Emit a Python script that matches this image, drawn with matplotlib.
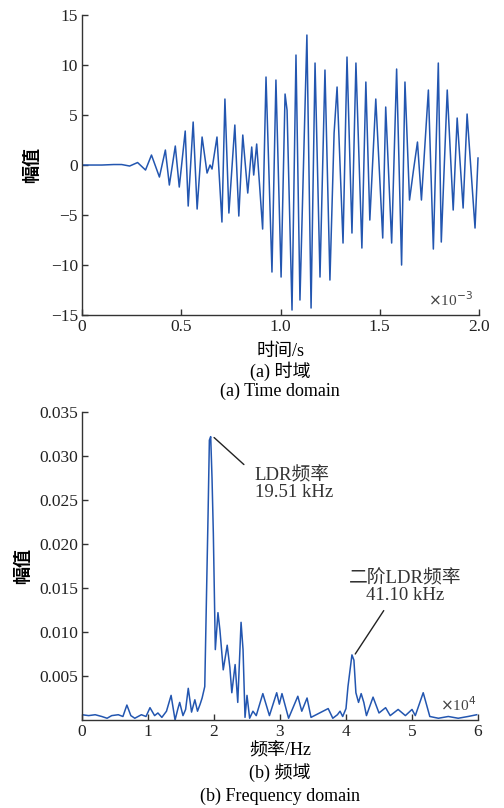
import matplotlib.pyplot as plt

# time domain: extrema (time in ms, amplitude)
t_ms = [0, 0.10, 0.16, 0.20, 0.24, 0.28, 0.32, 0.35, 0.39, 0.42, 0.44, 0.47, 0.49,
        0.52, 0.535, 0.56, 0.58, 0.605, 0.63, 0.645, 0.655, 0.68, 0.705, 0.72, 0.74,
        0.77, 0.79, 0.81, 0.835, 0.855, 0.865, 0.88, 0.91, 0.927, 0.957, 0.977,
        1.003, 1.023, 1.033, 1.058, 1.078, 1.098, 1.133, 1.154, 1.174, 1.199, 1.224,
        1.249, 1.27, 1.285, 1.315, 1.335, 1.36, 1.38, 1.41, 1.43, 1.45, 1.48, 1.515,
        1.53, 1.56, 1.585, 1.61, 1.627, 1.65, 1.67, 1.69, 1.71, 1.745, 1.77, 1.795,
        1.81, 1.84, 1.87, 1.89, 1.92, 1.94, 1.98, 1.995]
amp_t = [0, 0, 0.05, 0.05, -0.1, 0.25, -0.5, 1.0, -1.2, 1.5, -2.0, 1.9, -2.2,
         3.4, -4.1, 4.3, -4.4, 2.8, -0.8, 0.0, -0.4, 2.8, -5.7, 6.6, -4.8,
         4.0, -5.1, 3.0, -2.8, 1.8, -1.0, 2.1, -6.4, 8.8, -10.7, 8.5,
         -11.2, 7.1, 5.5, -14.5, 11.0, -13.5, 13.0, -14.3, 10.2, -11.2, 9.5,
         -11.5, 3.2, 7.8, -7.8, 10.8, -6.8, 10.2, -8.3, 8.3, -5.5, 6.6, -7.3,
         5.8, -7.8, 9.6, -10.0, 8.3, -3.5, -0.5, 2.3, -3.5, 7.5, -8.4, 10.2,
         -7.7, 7.5, -4.5, 4.7, -4.3, 5.1, -6.3, 0.7]

# frequency domain (frequency in 1e4 Hz, amplitude)
f_e4 = [0, 0.1, 0.2, 0.3, 0.38, 0.45, 0.55, 0.62, 0.68, 0.74, 0.8, 0.9, 0.97, 1.03,
        1.1, 1.15, 1.21, 1.28, 1.35, 1.41, 1.45, 1.48, 1.53, 1.57, 1.61, 1.66, 1.71,
        1.75, 1.79, 1.82, 1.86, 1.89, 1.91, 1.93, 1.95, 1.97, 1.99, 2.02, 2.06, 2.09,
        2.14, 2.20, 2.24, 2.27, 2.32, 2.36, 2.41, 2.44, 2.47, 2.5, 2.54, 2.59, 2.64,
        2.74, 2.84, 2.95, 2.99, 3.03, 3.13, 3.27, 3.33, 3.41, 3.47, 3.6, 3.73, 3.8,
        3.87, 3.91, 3.95, 4.0, 4.03, 4.09, 4.12, 4.15, 4.19, 4.23, 4.27, 4.31, 4.41,
        4.5, 4.6, 4.67, 4.79, 4.9, 5.0, 5.05, 5.17, 5.27, 5.4, 5.55, 5.7, 5.85, 5.98]
amp_f = [0.0006, 0.0005, 0.0006, 0.0004, 0.0002, 0.0005, 0.0006, 0.0004, 0.0017,
         0.0005, 0.0002, 0.0006, 0.0004, 0.0014, 0.0005, 0.0008, 0.0003, 0.0010,
         0.0028, 0.0, 0.0012, 0.0020, 0.0005, 0.0012, 0.0036, 0.0009, 0.0023,
         0.0010, 0.0018, 0.0025, 0.0038, 0.0156, 0.0233, 0.0318, 0.0322, 0.0275,
         0.0212, 0.0080, 0.0122, 0.0102, 0.0057, 0.0085, 0.0060, 0.0031, 0.0063,
         0.0020, 0.0111, 0.0080, 0.0003, 0.0028, 0.0002, 0.0010, 0.0005, 0.0030,
         0.0005, 0.0031, 0.0018, 0.0030, 0.0002, 0.0027, 0.0010, 0.0025, 0.0003,
         0.0008, 0.0013, 0.0002, 0.0006, 0.0010, 0.0004, 0.0013, 0.0038, 0.0074,
         0.0068, 0.0031, 0.0020, 0.0030, 0.0020, 0.0005, 0.0026, 0.0008, 0.0014,
         0.0005, 0.0012, 0.0005, 0.0012, 0.0005, 0.0031, 0.0004, 0.0002, 0.0004,
         0.0002, 0.0004, 0.0006]

peak1 = (1.951, 0.0322)
peak2 = (4.110, 0.0074)

serif = ['Liberation Serif', 'Noto Sans CJK SC']
cjk = ['Noto Sans CJK SC', 'Liberation Serif']
plt.rcParams['font.family'] = serif
plt.rcParams['font.size'] = 12.5
plt.rcParams['axes.unicode_minus'] = True

line_col = '#2356b0'
fig = plt.figure(figsize=(5.04, 8.08), dpi=100)

# ---- (a) time domain
ax1 = fig.add_axes([0.1627, 0.6101, 0.7877, 0.3713])
ax1.plot(t_ms, amp_t, color=line_col, lw=1.1)
ax1.set_xlim(0, 2.0)
ax1.set_ylim(-15, 15)
ax1.set_xticks([0, 0.5, 1.0, 1.5, 2.0])
ax1.set_xticklabels(['0', '0.5', '1.0', '1.5', '2.0'])
ax1.set_yticks(range(-15, 16, 5))
ax1.set_ylabel('幅值', family=cjk, fontsize=13, fontweight='bold', labelpad=7)
ax1.text(0.985, 0.02, r'$\times$10$^{-3}$', transform=ax1.transAxes, ha='right',
         va='bottom', fontsize=11, color='#444444')
fig.text(0.556, 0.565, '时间/s', ha='center', va='center', fontsize=13)
fig.text(0.556, 0.541, '(a) 时域', ha='center', va='center', fontsize=13)
fig.text(0.556, 0.516, '(a) Time domain', ha='center', va='center', fontsize=13)

# ---- (b) frequency domain
ax2 = fig.add_axes([0.1627, 0.1089, 0.7857, 0.3812])
ax2.plot(f_e4, amp_f, color=line_col, lw=1.1)
ax2.set_xlim(0, 6)
ax2.set_ylim(0, 0.035)
ax2.set_xticks(range(0, 7))
ax2.set_yticks([0.005, 0.010, 0.015, 0.020, 0.025, 0.030, 0.035])
ax2.set_yticklabels(['0.005', '0.010', '0.015', '0.020', '0.025', '0.030', '0.035'])
ax2.set_ylabel('幅值', family=cjk, fontsize=13, fontweight='bold', labelpad=5)
ax2.text(0.995, 0.02, r'$\times$10$^{4}$', transform=ax2.transAxes, ha='right',
         va='bottom', fontsize=11, color='#444444')
ax2.annotate('LDR频率\n19.51 kHz', xy=(peak1[0] + 0.05, peak1[1] - 0.0001),
             xytext=(2.62, 0.0268), ha='left', va='center', fontsize=13.5,
             linespacing=1.0, color='#333333',
             arrowprops=dict(arrowstyle='-', color='#222222', lw=1.0,
                             shrinkA=8, shrinkB=0, relpos=(0, 0.78)))
ax2.annotate('二阶LDR频率\n41.10 kHz', xy=(peak2[0] + 0.03, peak2[1] + 0.0001),
             xytext=(4.89, 0.0151), ha='center', va='center', fontsize=13.5,
             linespacing=1.0, color='#333333',
             arrowprops=dict(arrowstyle='-', color='#222222', lw=1.0,
                             shrinkA=3, shrinkB=0, relpos=(0.35, 0.0)))
fig.text(0.556, 0.071, '频率/Hz', ha='center', va='center', fontsize=13)
fig.text(0.556, 0.044, '(b) 频域', ha='center', va='center', fontsize=13)
fig.text(0.556, 0.014, '(b) Frequency domain', ha='center', va='center', fontsize=13)

for ax in (ax1, ax2):
    ax.spines['top'].set_visible(False)
    ax.spines['right'].set_visible(False)
    for s in ('left', 'bottom'):
        ax.spines[s].set_color('#333333')
        ax.spines[s].set_linewidth(1.0)
    ax.tick_params(direction='in', length=4, width=1.0, colors='#333333',
                   labelcolor='#222222', labelsize=12.5, pad=3)

fig.savefig('out.png', dpi=100)
